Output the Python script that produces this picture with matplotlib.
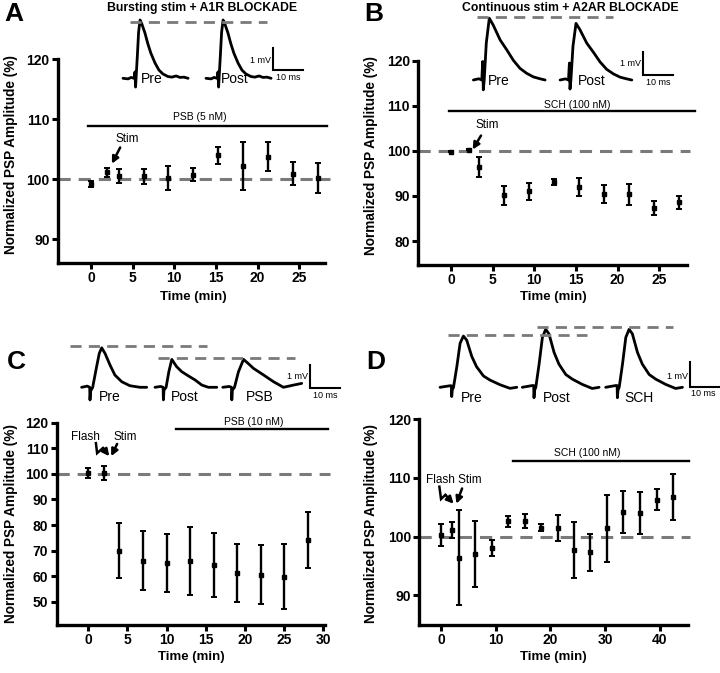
import matplotlib
matplotlib.use("Agg")
import matplotlib.pyplot as plt

plt.rcParams['font.family'] = ['Liberation Sans', 'DejaVu Sans']

# ---------------- data ----------------
A_time = [0, 1.9, 3.3, 6.3, 9.25, 12.3, 15.3, 18.3, 21.3, 24.3, 27.2]
A_mean = [99.3, 101.2, 100.55, 100.55, 100.3, 100.8, 104.0, 102.3, 103.8, 100.9, 100.3]
A_sem = [0.5, 0.75, 1.1, 1.25, 2.0, 1.1, 1.45, 4.0, 2.4, 1.9, 2.5]

B_time = [0, 2.1, 3.4, 6.4, 9.4, 12.4, 15.4, 18.4, 21.4, 24.4, 27.4]
B_mean = [99.8, 100.3, 96.45, 90.2, 91.05, 93.1, 92.0, 90.5, 90.4, 87.4, 88.6]
B_sem = [0.1, 0.1, 2.3, 2.1, 1.9, 0.6, 2.0, 2.0, 2.3, 1.6, 1.5]

C_time = [0, 2, 4, 7, 10, 13, 16, 19, 22, 25, 28]
C_mean = [100.4, 100.4, 69.9, 66.0, 65.2, 66.0, 64.3, 61.3, 60.5, 59.8, 74.0]
C_sem = [1.9, 2.7, 10.8, 11.5, 11.3, 13.2, 12.5, 11.3, 11.5, 12.6, 10.9]

D_time = [0, 2.0, 3.35, 6.3, 9.3, 12.3, 15.3, 18.3, 21.3, 24.3, 27.3, 30.3, 33.3, 36.3, 39.4, 42.4]
D_mean = [100.3, 101.1, 96.4, 97.0, 98.0, 102.6, 102.7, 101.5, 101.5, 97.7, 97.3, 101.4, 104.2, 104.0, 106.3, 106.8]
D_sem = [1.85, 1.3, 8.1, 5.6, 1.4, 0.9, 1.2, 0.6, 2.2, 4.8, 3.2, 5.7, 3.6, 3.6, 1.85, 3.9]

A_xticks = [0, 5, 10, 15, 20, 25]
A_yticks = [90, 100, 110, 120]
B_xticks = [0, 5, 10, 15, 20, 25]
B_yticks = [80, 90, 100, 110, 120]
C_xticks = [0, 5, 10, 15, 20, 25, 30]
C_yticks = [50, 60, 70, 80, 90, 100, 110, 120]
D_xticks = [0, 10, 20, 30, 40]
D_yticks = [90, 100, 110, 120]

# drug application bars: (label, start, end, level)
A_drug = ("PSB (5 nM)", -0.4, 28.3, 108.9)
B_drug = ("SCH (100 nM)", -0.3, 29.3, 108.8)
C_drug = ("PSB (10 nM)", 11.2, 30.6, 117.5)
D_drug = ("SCH (100 nM)", 13.1, 45.3, 112.9)

# normalized PSP waveform shapes (ms, fraction of peak)
SHAPE_A_T = [-4, -2.3, -1.3, -0.3, 0, 0.2, 0.4, 0.8, 1.2, 1.7, 2.3, 3.3, 4.3, 5.3, 6.7, 8, 9.3, 11, 12.3, 13.7, 15, 16.3, 17.7]
SHAPE_A_V = [0, -0.01, 0.015, 0, 0.11, -0.15, 0.04, 0.4, 0.79, 1.0, 0.93, 0.78, 0.59, 0.43, 0.26, 0.14, 0.075, 0.03, 0.02, 0.04, 0.015, 0.02, 0]
SHAPE_B_T = [-3.3, -1.5, -0.5, -0.2, 0, 0.3, 1.0, 2.0, 3.3, 5.6, 7.8, 10, 12.2, 14.4, 16.7, 18.9, 20.6]
SHAPE_B_V = [0, 0.02, 0, 0.3, -0.16, 0.0, 0.6, 1.0, 0.89, 0.65, 0.49, 0.32, 0.19, 0.11, 0.05, 0.02, 0]
SHAPE_C1_T = [-2.8, -0.9, -0.1, 0, 0.2, 0.9, 2.2, 3.1, 3.9, 5.0, 6.7, 8.3, 10.6, 13.3, 16.7, 18.9]
SHAPE_C1_V = [0, 0.03, 0.0, -0.32, -0.1, 0, 0.52, 0.86, 1.0, 0.86, 0.56, 0.31, 0.14, 0.04, 0, 0]
SHAPE_C2_T = [-2.8, -0.9, -0.1, 0, 0.2, 0.9, 1.8, 2.8, 4.4, 6.1, 8.3, 10.6, 12.8, 15, 17.8]
SHAPE_C2_V = [0, 0.03, 0, -0.45, -0.1, 0, 0.55, 1.0, 0.74, 0.56, 0.41, 0.26, 0.08, 0, 0]
SHAPE_C3_T = [-3, -0.9, -0.1, 0, 0.2, 0.9, 2.2, 3.9, 5.5, 7.2, 10.6, 13.9, 17.2, 20.6, 23.3]
SHAPE_C3_V = [0, 0.03, 0, -0.45, -0.1, 0, 0.55, 1.0, 0.85, 0.68, 0.44, 0.2, 0, 0.08, 0.14]
SHAPE_D_T = [-3.9, -0.6, -0.1, 0, 0.2, 0.6, 1.7, 2.8, 3.9, 5.0, 6.7, 8.3, 10.6, 12.8, 16.1, 19.4, 21.7]
SHAPE_D_V = [0, 0.03, 0.03, -0.18, -0.05, 0, 0.4, 0.86, 1.0, 0.92, 0.6, 0.4, 0.22, 0.14, 0.05, -0.02, 0]

# trace amplitudes (mV)
A_amp = {"Pre": 2.65, "Post": 2.65}
B_amp = {"Pre": 2.65, "Post": 2.43}
C_amp = {"Pre": 1.74, "Post": 1.23, "PSB": 1.23}
D_amp = {"Pre": 2.05, "Post": 2.32, "SCH": 2.32}

# ---------------- layout ----------------
W, H = 720, 673
fig = plt.figure(figsize=(W / 100, H / 100), dpi=100)

def px_axes(l, t, r, b):
    return fig.add_axes([l / W, 1 - b / H, (r - l) / W, (b - t) / H])

DASH = dict(color='#7a7a7a', lw=2.2, dashes=(4.0, 2.6))
TICKFS = 10

def style(ax, xlim, ylim, xticks, yticks):
    ax.set_xlim(*xlim)
    ax.set_ylim(*ylim)
    for s in ['top', 'right']:
        ax.spines[s].set_visible(False)
    for s in ['left', 'bottom']:
        ax.spines[s].set_linewidth(2.4)
    ax.set_xticks(xticks)
    ax.set_yticks(yticks)
    ax.tick_params(width=2.2, length=4, labelsize=TICKFS, pad=2)
    for lab in ax.get_xticklabels() + ax.get_yticklabels():
        lab.set_fontweight('bold')
    ax.spines['left'].set_bounds(ylim[0], yticks[-1])
    ax.patch.set_alpha(0)

def data_panel(ax, t, m, s, drug, dash_end):
    ax.plot([ax.get_xlim()[0], dash_end], [100, 100], clip_on=False, zorder=1, **DASH)
    ax.errorbar(t, m, yerr=s, fmt='s', color='black', ms=3.5, elinewidth=1.7,
                capsize=2.0, capthick=1.4, zorder=3, clip_on=False)
    label, x0, x1, lev = drug
    ax.plot([x0, x1], [lev, lev], color='black', lw=1.7, clip_on=False)

def ylabel(text, xpx, ypx):
    fig.text(xpx / W, 1 - ypx / H, text, rotation=90, ha='center', va='center',
             fontsize=9.8, fontweight='bold')

def xlabel(text, xpx, ypx):
    fig.text(xpx / W, 1 - ypx / H, text, ha='center', va='center',
             fontsize=9.5, fontweight='bold')

ARW = dict(arrowstyle='-|>', color='black', lw=1.8, mutation_scale=10, shrinkA=0, shrinkB=0)

# ---- Panel A ----
axA = px_axes(58, 59.3, 325, 262.7)
style(axA, (-3.97, 28.1), (86.1, 120), A_xticks, A_yticks)
data_panel(axA, A_time, A_mean, A_sem, A_drug, 28.7)
axA.text(13.1, 110.4, A_drug[0], ha='center', va='center', fontsize=7.5)
axA.text(4.4, 106.8, "Stim", ha='center', va='center', fontsize=8.5)
axA.annotate('', xy=(2.5, 102.6), xytext=(3.5, 105.3), arrowprops=ARW)

# ---- Panel B ----
axB = px_axes(418.3, 60.7, 686.7, 265)
style(axB, (-3.93, 28.3), (74.7, 120), B_xticks, B_yticks)
data_panel(axB, B_time, B_mean, B_sem, B_drug, 28.7)
axB.text(15.1, 110.2, B_drug[0], ha='center', va='center', fontsize=7.5)
axB.text(4.4, 105.8, "Stim", ha='center', va='center', fontsize=8.5)
axB.annotate('', xy=(2.6, 100.3), xytext=(3.6, 103.4), arrowprops=ARW)

# ---- Panel C ----
axC = px_axes(56.7, 422.7, 325, 625)
style(axC, (-4.0, 30.2), (40.9, 120), C_xticks, C_yticks)
data_panel(axC, C_time, C_mean, C_sem, C_drug, 30.8)
axC.text(21.1, 120.4, C_drug[0], ha='center', va='center', fontsize=7.5)
axC.text(-0.4, 114.5, "Flash", ha='center', va='center', fontsize=8.5)
axC.text(4.8, 114.6, "Stim", ha='center', va='center', fontsize=8.5)
axC.plot([1.0, 1.15, 1.9], [112.0, 108.1, 110.1], color='black', lw=1.8, solid_joinstyle='miter')
axC.annotate('', xy=(2.7, 106.9), xytext=(1.9, 110.1), arrowprops=ARW)
axC.annotate('', xy=(2.95, 106.9), xytext=(3.7, 111.7), arrowprops=ARW)

# ---- Panel D ----
axD = px_axes(419.3, 419.3, 688.3, 625)
style(axD, (-3.97, 45.2), (84.9, 120), D_xticks, D_yticks)
data_panel(axD, D_time, D_mean, D_sem, D_drug, 45.6)
axD.text(26.8, 114.2, D_drug[0], ha='center', va='center', fontsize=7.5)
axD.text(2.4, 109.7, "Flash Stim", ha='center', va='center', fontsize=8.5)
axD.plot([-0.3, 0.0, 0.8], [108.5, 106.4, 107.1], color='black', lw=1.8, solid_joinstyle='miter')
axD.annotate('', xy=(2.3, 105.6), xytext=(0.8, 107.1), arrowprops=ARW)
axD.annotate('', xy=(2.8, 105.6), xytext=(3.85, 108.2), arrowprops=ARW)

# axis titles
ylabel("Normalized PSP Amplitude (%)", 11, 155)
ylabel("Normalized PSP Amplitude (%)", 371, 156)
ylabel("Normalized PSP Amplitude (%)", 11, 524)
ylabel("Normalized PSP Amplitude (%)", 371, 524)
xlabel("Time (min)", 193, 297)
xlabel("Time (min)", 553, 297)
xlabel("Time (min)", 191, 657)
xlabel("Time (min)", 553, 657)

# panel letters and titles
for letter, x, y in [("A", 14, 14), ("B", 374, 14), ("C", 16, 362), ("D", 376, 362)]:
    fig.text(x / W, 1 - y / H, letter, ha='center', va='center', fontsize=19, fontweight='bold')
fig.text(202 / W, 1 - 8 / H, "Bursting stim + A1R BLOCKADE", ha='center', va='center',
         fontsize=8.8, fontweight='bold')
fig.text(570 / W, 1 - 8 / H, "Continuous stim + A2AR BLOCKADE", ha='center', va='center',
         fontsize=8.8, fontweight='bold')

# ---------------- example traces ----------------
def trace_axes(l, t, w, h, px_ms, px_mv, base_y):
    ax = fig.add_axes([l / W, 1 - (t + h) / H, w / W, h / H])
    ax.set_xlim(0, w / px_ms)
    ax.set_ylim(-(t + h - base_y) / px_mv, (base_y - t) / px_mv)
    ax.axis('off')
    return ax

TR = dict(color='black', lw=2.0, solid_joinstyle='round', solid_capstyle='round', clip_on=False)
TRDASH = dict(color='#7a7a7a', lw=2.0, dashes=(4.0, 2.6))

def draw_trace(ax, t_list, v_list, t0, amp):
    ax.plot([t0 + t for t in t_list], [v * amp for v in v_list], **TR)

def scalebar(ax, x, y, xlab, ylab):
    ax.plot([x, x, x + 10], [y + 1, y, y], color='black', lw=1.5, clip_on=False,
            solid_joinstyle='miter')
    ax.text(*ylab, "1 mV", ha='right', va='center', fontsize=6.5)
    ax.text(*xlab, "10 ms", ha='center', va='center', fontsize=6.5)

# A traces
tA = trace_axes(110, 5, 200, 95, 3.0, 22.0, 78.3)
draw_trace(tA, SHAPE_A_T, SHAPE_A_V, 8.33, A_amp["Pre"])
draw_trace(tA, SHAPE_A_T, SHAPE_A_V, 36.0, A_amp["Post"])
tA.plot([6.67, 52.3], [2.57, 2.57], **TRDASH)
scalebar(tA, 54.3, 0.38, (59.3, 0.04), (53.6, 0.83))
tA.text(14.0, -0.05, "Pre", ha='center', va='center', fontsize=10)
tA.text(41.7, -0.05, "Post", ha='center', va='center', fontsize=10)

# B traces
tB = trace_axes(465, 5, 215, 95, 3.0, 23.3, 80)
draw_trace(tB, SHAPE_B_T, SHAPE_B_V, 6.1, B_amp["Pre"])
draw_trace(tB, SHAPE_B_T, SHAPE_B_V, 35.0, B_amp["Post"])
tB.plot([3.9, 49.4], [2.72, 2.72], **TRDASH)
scalebar(tB, 59.4, 0.21, (64.4, -0.1), (58.5, 0.72))
tB.text(11.3, -0.05, "Pre", ha='center', va='center', fontsize=10)
tB.text(42.2, -0.05, "Post", ha='center', va='center', fontsize=10)

# C traces
tC = trace_axes(65, 335, 280, 70, 3.0, 22.7, 387.3)
draw_trace(tC, SHAPE_C1_T, SHAPE_C1_V, 8.33, C_amp["Pre"])
draw_trace(tC, SHAPE_C2_T, SHAPE_C2_V, 32.8, C_amp["Post"])
draw_trace(tC, SHAPE_C3_T, SHAPE_C3_V, 55.6, C_amp["PSB"])
tC.plot([1.67, 47.2], [1.82, 1.82], **TRDASH)
tC.plot([31.1, 76.7], [1.28, 1.28], **TRDASH)
scalebar(tC, 81.7, -0.02, (86.7, -0.37), (81.0, 0.47))
tC.text(15.0, -0.41, "Pre", ha='center', va='center', fontsize=10)
tC.text(39.8, -0.41, "Post", ha='center', va='center', fontsize=10)
tC.text(64.8, -0.41, "PSB", ha='center', va='center', fontsize=10)

# D traces
tD = trace_axes(435, 318, 285, 90, 3.0, 25.0, 387.3)
draw_trace(tD, SHAPE_D_T, SHAPE_D_V, 5.57, D_amp["Pre"])
draw_trace(tD, SHAPE_D_T, SHAPE_D_V, 33.0, D_amp["Post"])
draw_trace(tD, SHAPE_D_T, SHAPE_D_V, 60.8, D_amp["SCH"])
tD.plot([4.43, 50.6], [2.09, 2.09], **TRDASH)
tD.plot([33.9, 79.4], [2.4, 2.4], **TRDASH)
scalebar(tD, 85.0, 0.02, (89.5, -0.24), (84.4, 0.45))
tD.text(12.2, -0.44, "Pre", ha='center', va='center', fontsize=10)
tD.text(40.6, -0.44, "Post", ha='center', va='center', fontsize=10)
tD.text(68.1, -0.44, "SCH", ha='center', va='center', fontsize=10)

fig.savefig("out.png", dpi=100)
